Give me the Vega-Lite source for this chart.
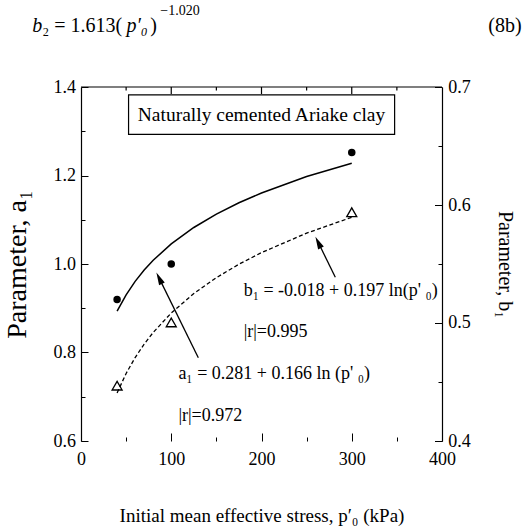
{
  "$schema": "https://vega.github.io/schema/vega-lite/v6.json",
  "width": 361,
  "height": 354,
  "autosize": {"type": "none"},
  "padding": {"left": 81, "top": 87, "right": 84, "bottom": 87},
  "background": "white",
  "config": {
    "font": "Liberation Serif",
    "view": {"stroke": null},
    "axis": {
      "grid": false,
      "domainColor": "black",
      "domainWidth": 1.2,
      "tickColor": "black",
      "tickWidth": 1,
      "labelColor": "black",
      "labelFont": "Liberation Serif",
      "labelFontSize": 18,
      "labelFlush": false,
      "labelOverlap": false,
      "labelBound": false,
      "titleColor": "black",
      "titleFont": "Liberation Serif",
      "titleFontWeight": "normal"
    }
  },
  "datasets": {
    "fit": [
      {"p": 40, "a1": 0.8934, "b1": 0.7087},
      {"p": 50, "a1": 0.9304, "b1": 0.7527},
      {"p": 60, "a1": 0.9607, "b1": 0.7886},
      {"p": 70, "a1": 0.9862, "b1": 0.8190},
      {"p": 80, "a1": 1.0084, "b1": 0.8453},
      {"p": 100, "a1": 1.0455, "b1": 0.8892},
      {"p": 125, "a1": 1.0825, "b1": 0.9332},
      {"p": 150, "a1": 1.1128, "b1": 0.9691},
      {"p": 175, "a1": 1.1384, "b1": 0.9995},
      {"p": 200, "a1": 1.1605, "b1": 1.0258},
      {"p": 250, "a1": 1.1976, "b1": 1.0697},
      {"p": 300, "a1": 1.2278, "b1": 1.1056}
    ],
    "obs": [
      {"p": 40, "a1": 0.92, "b1": 0.725},
      {"p": 100, "a1": 1.0, "b1": 0.868},
      {"p": 300, "a1": 1.252, "b1": 1.117}
    ],
    "topEdge": [
      {"seg": "edge", "p": 0, "yv": 1.4},
      {"seg": "edge", "p": 400, "yv": 1.4},
      {"seg": "t50", "p": 50, "yv": 1.4},
      {"seg": "t50", "p": 50, "yv": 1.392},
      {"seg": "t100", "p": 100, "yv": 1.4},
      {"seg": "t100", "p": 100, "yv": 1.3841},
      {"seg": "t150", "p": 150, "yv": 1.4},
      {"seg": "t150", "p": 150, "yv": 1.392},
      {"seg": "t200", "p": 200, "yv": 1.4},
      {"seg": "t200", "p": 200, "yv": 1.3841},
      {"seg": "t250", "p": 250, "yv": 1.4},
      {"seg": "t250", "p": 250, "yv": 1.392},
      {"seg": "t300", "p": 300, "yv": 1.4},
      {"seg": "t300", "p": 300, "yv": 1.3841},
      {"seg": "t350", "p": 350, "yv": 1.4},
      {"seg": "t350", "p": 350, "yv": 1.392}
    ],
    "box": [
      {"x1": 52.7, "x2": 347.5, "y1": 1.382, "y2": 1.293, "xc": 200, "yc": 1.337, "label": "Naturally cemented Ariake clay"}
    ],
    "arrows": [
      {"x": 130.0, "y": 0.788, "x2": 86.6, "y2": 0.968},
      {"x": 281.8, "y": 0.970, "x2": 262.8, "y2": 1.049}
    ],
    "notes": [
      {"x": 180.2, "y": 0.938, "text": "b₁ = -0.018 + 0.197 ln(p'  ₀)"},
      {"x": 180.2, "y": 0.8455, "text": "|r|=0.995"},
      {"x": 107.9, "y": 0.752, "text": "a₁ = 0.281 + 0.166 ln (p'  ₀)"},
      {"x": 107.9, "y": 0.657, "text": "|r|=0.972"}
    ],
    "eqRoman": [
      {"x": -42.9, "y": 1.5253, "text": "₂ = 1.613("},
      {"x": 76.8, "y": 1.5253, "text": ")"},
      {"x": 451.3, "y": 1.5253, "text": "(8b)"}
    ],
    "eqItalic": [
      {"x": -54.0, "y": 1.5253, "text": "b"},
      {"x": 50.3, "y": 1.5253, "text": "p′₀"}
    ],
    "eqSup": [
      {"x": 87.9, "y": 1.562, "text": "−1.020"}
    ]
  },
  "resolve": {"axis": {"x": "independent", "y": "independent"}},
  "layer": [
    {
      "data": {"name": "fit"},
      "mark": {"type": "line", "color": "black", "strokeWidth": 1.5},
      "encoding": {
        "x": {
          "field": "p", "type": "quantitative",
          "scale": {"domain": [0, 400], "nice": false},
          "axis": {
            "orient": "bottom",
            "values": [0, 50, 100, 150, 200, 250, 300, 350, 400],
            "labelExpr": "datum.value % 100 == 0 ? datum.label : ''",
            "tickSize": {"condition": {"test": "datum.value % 100 == 0", "value": -8}, "value": -4},
            "labelPadding": 17,
            "domain": false,
            "title": "Initial mean effective stress,  p′₀ (kPa)",
            "titleFontSize": 19,
            "titlePadding": 34
          }
        },
        "y": {
          "field": "a1", "type": "quantitative",
          "scale": {"domain": [0.6, 1.4], "nice": false, "zero": false},
          "axis": {
            "orient": "left",
            "values": [0.6, 0.7, 0.8, 0.9, 1.0, 1.1, 1.2, 1.3, 1.4],
            "labelExpr": "round(datum.value * 10) % 2 == 0 ? format(datum.value, '.1f') : ''",
            "tickSize": {"condition": {"test": "round(datum.value * 10) % 2 == 0", "value": -7}, "value": -4},
            "labelPadding": 12.5,
            "title": "Parameter, a₁",
            "titleFontSize": 28,
            "titlePadding": 22
          }
        }
      }
    },
    {
      "data": {"name": "fit"},
      "mark": {"type": "line", "color": "black", "strokeWidth": 1.3, "strokeDash": [4, 2.5]},
      "encoding": {
        "x": {"field": "p", "type": "quantitative", "axis": null},
        "y": {
          "field": "b1", "type": "quantitative",
          "axis": {
            "orient": "right",
            "values": [0.6, 0.73333, 0.86667, 1.0, 1.13333, 1.26667, 1.4],
            "labelExpr": "round((datum.value - 0.6) * 7.5) % 2 == 0 ? format(0.4 + round((datum.value - 0.6) * 7.5) * 0.05, '.1f') : ''",
            "tickSize": {"condition": {"test": "round((datum.value - 0.6) * 7.5) % 2 == 0", "value": -7.5}, "value": -4},
            "labelPadding": 13.3,
            "title": "Parameter, b₁",
            "titleFontSize": 20,
            "titlePadding": 24
          }
        }
      }
    },
    {
      "data": {"name": "topEdge"},
      "mark": {"type": "line", "color": "black", "strokeWidth": 1.2},
      "encoding": {
        "x": {"field": "p", "type": "quantitative", "axis": null},
        "y": {"field": "yv", "type": "quantitative", "axis": null},
        "detail": {"field": "seg", "type": "nominal"}
      }
    },
    {
      "data": {"name": "obs"},
      "mark": {"type": "point", "shape": "circle", "filled": true, "color": "black", "opacity": 1, "size": 56},
      "encoding": {
        "x": {"field": "p", "type": "quantitative", "axis": null},
        "y": {"field": "a1", "type": "quantitative", "axis": null}
      }
    },
    {
      "data": {"name": "obs"},
      "mark": {"type": "point", "shape": "triangle-up", "filled": false, "color": "black", "strokeWidth": 1.3, "opacity": 1, "size": 100},
      "encoding": {
        "x": {"field": "p", "type": "quantitative", "axis": null},
        "y": {"field": "b1", "type": "quantitative", "axis": null}
      }
    },
    {
      "data": {"name": "arrows"},
      "mark": {"type": "rule", "color": "black", "strokeWidth": 1.3},
      "encoding": {
        "x": {"field": "x", "type": "quantitative", "axis": null},
        "y": {"field": "y", "type": "quantitative", "axis": null},
        "x2": {"field": "x2"},
        "y2": {"field": "y2"}
      }
    },
    {
      "data": {"name": "arrows"},
      "mark": {"type": "point", "shape": "M0,-1L0.5,1L-0.5,1Z", "filled": true, "color": "black", "opacity": 1, "size": 160, "angle": -26},
      "encoding": {
        "x": {"field": "x2", "type": "quantitative", "axis": null},
        "y": {"field": "y2", "type": "quantitative", "axis": null}
      }
    },
    {
      "data": {"name": "box"},
      "mark": {"type": "rect", "fill": "black", "xOffset": 3.5, "yOffset": 3.5},
      "encoding": {
        "x": {"field": "x1", "type": "quantitative", "axis": null},
        "x2": {"field": "x2"},
        "y": {"field": "y1", "type": "quantitative", "axis": null},
        "y2": {"field": "y2"}
      }
    },
    {
      "data": {"name": "box"},
      "mark": {"type": "rect", "fill": "white", "stroke": "black", "strokeWidth": 1.2},
      "encoding": {
        "x": {"field": "x1", "type": "quantitative", "axis": null},
        "x2": {"field": "x2"},
        "y": {"field": "y1", "type": "quantitative", "axis": null},
        "y2": {"field": "y2"}
      }
    },
    {
      "data": {"name": "box"},
      "mark": {"type": "text", "fontSize": 19.5, "align": "center", "baseline": "middle", "color": "black"},
      "encoding": {
        "x": {"field": "xc", "type": "quantitative", "axis": null},
        "y": {"field": "yc", "type": "quantitative", "axis": null},
        "text": {"field": "label"}
      }
    },
    {
      "data": {"name": "notes"},
      "mark": {"type": "text", "fontSize": 18, "align": "left", "baseline": "middle", "color": "black"},
      "encoding": {
        "x": {"field": "x", "type": "quantitative", "axis": null},
        "y": {"field": "y", "type": "quantitative", "axis": null},
        "text": {"field": "text"}
      }
    },
    {
      "data": {"name": "eqRoman"},
      "mark": {"type": "text", "fontSize": 20, "align": "left", "baseline": "alphabetic", "color": "black"},
      "encoding": {
        "x": {"field": "x", "type": "quantitative", "axis": null},
        "y": {"field": "y", "type": "quantitative", "axis": null},
        "text": {"field": "text"}
      }
    },
    {
      "data": {"name": "eqItalic"},
      "mark": {"type": "text", "fontSize": 20, "fontStyle": "italic", "align": "left", "baseline": "alphabetic", "color": "black"},
      "encoding": {
        "x": {"field": "x", "type": "quantitative", "axis": null},
        "y": {"field": "y", "type": "quantitative", "axis": null},
        "text": {"field": "text"}
      }
    },
    {
      "data": {"name": "eqSup"},
      "mark": {"type": "text", "fontSize": 14, "align": "left", "baseline": "alphabetic", "color": "black"},
      "encoding": {
        "x": {"field": "x", "type": "quantitative", "axis": null},
        "y": {"field": "y", "type": "quantitative", "axis": null},
        "text": {"field": "text"}
      }
    }
  ]
}
